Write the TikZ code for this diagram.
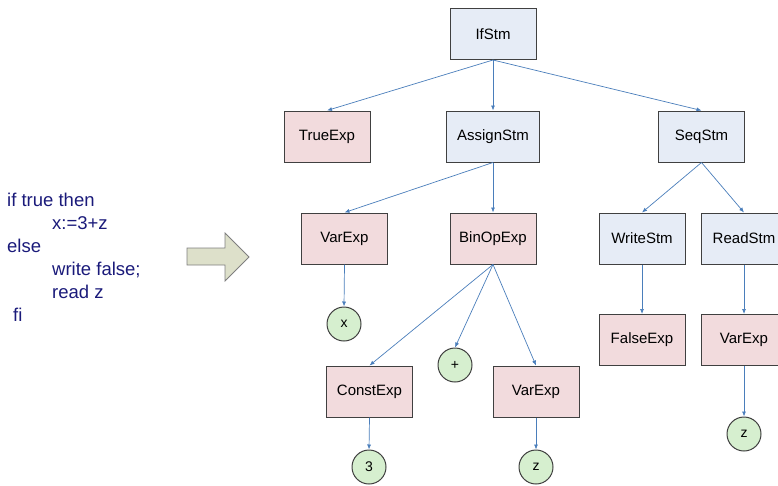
\documentclass[tikz,border=0pt]{standalone}
\usepackage{fontspec}
\setmainfont{Liberation Sans}
\usetikzlibrary{arrows.meta}

\definecolor{stmfill}{HTML}{E6ECF6}
\definecolor{expfill}{HTML}{F2DBDD}
\definecolor{leaffill}{HTML}{D6EFCF}
\definecolor{boxline}{HTML}{404040}
\definecolor{edgeblue}{HTML}{4A7EBB}
\definecolor{codeblue}{HTML}{1A1A7A}
\definecolor{arrowfill}{HTML}{DDE0CA}
\definecolor{arrowline}{HTML}{7F7F7F}

\begin{document}
\begin{tikzpicture}[x=1pt,y=-1pt,
  box/.style={draw=boxline, line width=1pt, minimum width=86pt, minimum height=51pt,
              inner sep=0pt, font=\fontsize{15}{18}\selectfont},
  stm/.style={box, fill=stmfill},
  exp/.style={box, fill=expfill},
  leaf/.style={circle, draw=boxline, line width=1pt, fill=leaffill, minimum size=34pt,
               inner sep=0pt, font=\fontsize{14}{16}\selectfont},
  link/.style={draw=edgeblue, line width=0.7pt, -{Latex[length=5pt,width=4pt]}},
  code/.style={anchor=base west, inner sep=0pt, text=codeblue,
               font=\fontsize{18.5}{22}\selectfont}]

\useasboundingbox (0,0) rectangle (778,485);

% source program
\node[code] (l1) at (7,206)  {if true then};
\node[code] (l2) at (52,229) {x:=3+z};
\node[code] (l3) at (7,252)  {else};
\node[code] (l4) at (52,275) {write false;};
\node[code] (l5) at (52,298) {read z};
\node[code] (l6) at (13,321) {fi};

% block arrow
\draw[draw=arrowline, fill=arrowfill, line width=0.8pt]
  (187,248) -- (225,248) -- (225,233) -- (249,257) -- (225,281)
  -- (225,265) -- (187,265) -- cycle;

% syntax tree
\node[stm] (ifstm)   at (493,34)    {IfStm};
\node[exp] (trueexp) at (327,136.5) {TrueExp};
\node[stm, minimum width=93pt] (assign) at (493,136.5) {AssignStm};
\node[stm] (seq)     at (701.5,136.5) {SeqStm};

\node[exp] (varx)    at (344.5,238.5) {VarExp};
\node[exp] (binop)   at (493,238.5)   {BinOpExp};
\node[stm] (write)   at (642,238.5)   {WriteStm};
\node[stm] (read)    at (744,238.5)   {ReadStm};

\node[leaf] (x)      at (344,324)   {x};
\node[exp] (falseexp) at (642,340)  {FalseExp};
\node[exp] (varz2)   at (744,340)   {VarExp};

\node[exp] (const)   at (369.5,391.5) {ConstExp};
\node[leaf] (plus)   at (455,365)   {+};
\node[exp] (varz)    at (536,391.5) {VarExp};

\node[leaf] (three)  at (369,467)   {3};
\node[leaf] (z)      at (536,467)   {z};
\node[leaf] (z2)     at (744,434)   {z};

% edges
\draw[link] (ifstm.south) -- (trueexp.north);
\draw[link] (ifstm.south) -- (assign.north);
\draw[link] (ifstm.south) -- (seq.north);
\draw[link] (assign.south) -- (varx.north);
\draw[link] (assign.south) -- (binop.north);
\draw[link] (seq.south) -- (write.north);
\draw[link] (seq.south) -- (read.north);
\draw[link] (varx.south) -- (x.north);
\draw[link] (binop.south) -- (const.north);
\draw[link] (binop.south) -- (plus.north);
\draw[link] (binop.south) -- (varz.north);
\draw[link] (write.south) -- (falseexp.north);
\draw[link] (read.south) -- (varz2.north);
\draw[link] (const.south) -- (three.north);
\draw[link] (varz.south) -- (z.north);
\draw[link] (varz2.south) -- (z2.north);
\end{tikzpicture}
\end{document}
